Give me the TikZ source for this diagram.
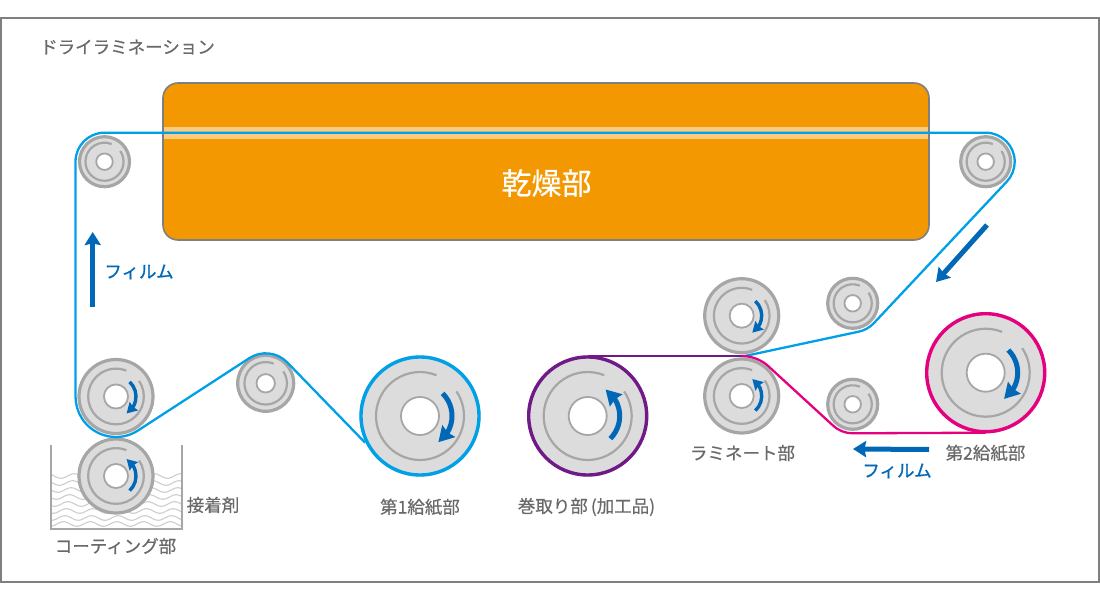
\documentclass[tikz,border=0pt]{standalone}
\usepackage{fontspec}
\setmainfont{Noto Sans CJK JP}
\newfontfamily\labelfont[RawFeature={embolden=0.5}]{Noto Sans CJK JP}
\newfontfamily\filmfont[RawFeature={embolden=1.0}]{Noto Sans CJK JP}
\usetikzlibrary{arrows.meta,bending,calc}
\definecolor{rollgray}{RGB}{220,220,220}
\definecolor{rimgray}{RGB}{166,166,166}
\definecolor{framegray}{RGB}{127,127,127}
\definecolor{textgray}{RGB}{105,105,105}
\definecolor{wavegray}{RGB}{205,205,205}
\definecolor{dryorange}{RGB}{243,152,0}
\definecolor{dryband}{RGB}{250,203,128}
\definecolor{filmblue}{RGB}{0,160,233}
\definecolor{arrowblue}{RGB}{0,104,183}
\definecolor{wipepurple}{RGB}{111,26,135}
\definecolor{feedpink}{RGB}{228,0,127}
\tikzset{
  partlabel/.style={text=textgray,font=\labelfont\fontsize{17.5}{17.5}\selectfont,inner sep=0pt},
  filmlabel/.style={text=arrowblue,font=\filmfont\fontsize{17.5}{17.5}\selectfont,inner sep=0pt},
  filmline/.style={line width=2.3pt,line join=round},
  filmarrow/.style={arrowblue,line width=5pt,-{Stealth[length=13pt,width=16pt,inset=1.5pt]}}
}
% name, centre, radius, rim colour
\newcommand{\roller}[4]{
  \coordinate (#1) at (#2);
  \filldraw [fill=rollgray,draw=#4,line width=3.2pt](#1) circle ({#3-1});
  \draw [rimgray,line width=2.2pt]($(#1)+(-34:#3*0.733)$) arc[start angle=-34,end angle=292,radius=#3*0.733];
  \filldraw [fill=white,draw=rimgray,line width=1.8pt](#1) circle (#3*0.317);
}
% centre, radius, start angle, end angle, width
\newcommand{\rollarrow}[5]{
  \draw [arrowblue,line width=#5pt,-{Stealth[flex,length=#5pt*3,width=#5pt*3.4,inset=#5pt*0.3]}]($(#1)+(#3:#2)$) arc[start angle=#3,end angle=#4,radius=#2];
}
\begin{document}
\begin{tikzpicture}[x=1pt,y=1pt,yscale=-1]
 	\useasboundingbox (0,0) rectangle (1100,601);
 	\draw [framegray,line width=2pt](1,18) rectangle (1099,582);
 	\node[partlabel,anchor=west] (title) at (40,47) {ドライラミネーション};
 	% dryer
 	\filldraw [fill=dryorange,draw=none,rounded corners=15pt](163,83) rectangle (929,240);
 	\fill [dryband](163,127) rectangle (929,139);
 	\draw [framegray,line width=1.6pt,rounded corners=15pt](163,83) rectangle (929,240);
 	\node[text=white,font=\labelfont\fontsize{30}{30}\selectfont,inner sep=0pt] (dryer) at (546.5,183) {乾燥部};
 	% adhesive tank
 	\foreach \wy in {476,483,490,497,504,511,518,524}
 	  \draw [wavegray,line width=1.1pt] plot[domain=52:181,samples=70,smooth] (\x,{\wy+2.3*sin(13.5*\x+\wy*3)});
 	\draw [rimgray,line width=2pt](51,445)--(51,529)--(182,529)--(182,445);
 	% rollers
 	\roller{guideA}{104.5,161.7}{26}{rimgray}
 	\roller{guideB}{985.7,161.7}{26}{rimgray}
 	\roller{coatA}{116,396.5}{38}{rimgray}
 	\roller{coatB}{116,476}{38}{rimgray}
 	\roller{guideC}{265.7,383.3}{29}{rimgray}
 	\roller{feedA}{420,416}{60}{rollgray}
 	\roller{wind}{587.7,416}{60}{rollgray}
 	\roller{lamA}{741.7,315.7}{38}{rimgray}
 	\roller{lamB}{741.7,396}{38}{rimgray}
 	\roller{guideD}{852.7,303.3}{26}{rimgray}
 	\roller{guideE}{852.7,404.3}{26}{rimgray}
 	\roller{feedB}{985.7,372.7}{60}{rollgray}
 	\rollarrow{coatA}{20}{-47}{58}{3.4}
 	\rollarrow{coatB}{20}{47}{-58}{3.4}
 	\rollarrow{feedA}{32}{-45}{55}{5}
 	\rollarrow{wind}{32}{45}{-56}{5}
 	\rollarrow{lamA}{20}{-47}{58}{3.4}
 	\rollarrow{lamB}{20}{47}{-58}{3.4}
 	\rollarrow{feedB}{32}{-45}{55}{5}
 	% film paths
 	\draw [wipepurple,filmline]($(wind)+(-90:60)$)--(741.7,356);
 	\draw [filmblue,filmline]($(feedA)+(154:61)$)--($(guideC)+(-45:30)$)
 	  arc[start angle=-45,end angle=-123,radius=30]--($(coatA)+(57:40.5)$)
 	  arc[start angle=57,end angle=180,radius=40.5]--($(guideA)+(180:29)$)
 	  arc[start angle=180,end angle=270,radius=29]--($(guideB)+(-90:29)$)
 	  arc[start angle=-90,end angle=44,radius=29]--($(guideD)+(44:29)$)
 	  arc[start angle=44,end angle=78,radius=29]--(745,356);
 	\draw [feedpink,filmline]($(feedB)+(90:60)$)--($(guideE)+(90:29)$)
 	  arc[start angle=90,end angle=135,radius=29]--($(lamB)+(-45:40)$)
 	  arc[start angle=-45,end angle=-90,radius=40];
 	% coloured rims go over the film
 	\draw [filmblue,line width=3.4pt](feedA) circle (59);
 	\draw [wipepurple,line width=3.4pt](wind) circle (59);
 	\draw [feedpink,line width=3.4pt](feedB) circle (59);
 	% film direction
 	\coordinate (upTail) at (92.7,307);
 	\coordinate (upTip) at (92.7,232);
 	\coordinate (downTail) at (987,225);
 	\coordinate (downTip) at (936,282);
 	\coordinate (leftTail) at (929,449.5);
 	\coordinate (leftTip) at (853,449);
 	\draw [filmarrow](upTail)--(upTip);
 	\draw [filmarrow](downTail)--(downTip);
 	\draw [filmarrow](leftTail)--(leftTip);
 	\node[filmlabel] (filmL) at (139,272) {フィルム};
 	\node[filmlabel] (filmR) at (897,471) {フィルム};
 	% labels
 	\node[partlabel] (glue) at (213,505) {接着剤};
 	\node[partlabel] (coat) at (115.5,546) {コーティング部};
 	\node[partlabel] (feedOne) at (420,507) {第1給紙部};
 	\node[partlabel] (windup) at (586.5,507) {巻取り部\kern3pt(加工品)};
 	\node[partlabel] (laminate) at (742.5,453) {ラミネート部};
 	\node[partlabel] (feedTwo) at (985.5,453) {第2給紙部};
\end{tikzpicture}
\end{document}
